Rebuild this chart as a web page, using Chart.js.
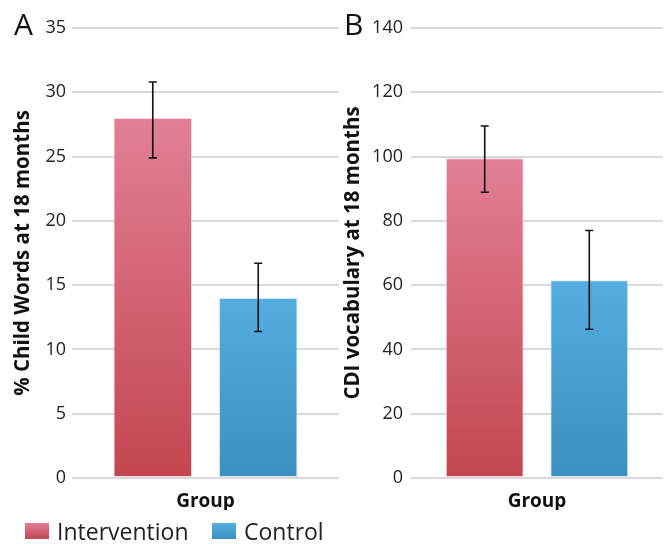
<!DOCTYPE html>
<html lang="en">
<head>
    <meta charset="UTF-8" />
    <title>Child words and CDI vocabulary at 18 months</title>
    <script src="https://cdn.jsdelivr.net/npm/chart.js"></script>
    <style>
        body { margin: 0; background: #fff; font-family: "Open Sans", sans-serif; }
        #wrap { position: relative; width: 669px; height: 544px; overflow: hidden; }
        .panel { position: absolute; top: 0; height: 544px; }
        .letter { position: absolute; top: 4px; font-size: 30px; color: #111; line-height: 40px; }
        .legend { position: absolute; top: 518px; height: 26px; display: flex; align-items: center; font-size: 23px; color: #222; }
        .swatch { display: inline-block; width: 24px; height: 16px; margin-right: 8px; }
    </style>
</head>
<body>
    <div id="wrap">
        <div class="panel" style="left:0;width:339px"><canvas id="chartA"></canvas></div>
        <div class="panel" style="left:330px;width:339px"><canvas id="chartB"></canvas></div>
        <div class="letter" style="left:14px">A</div>
        <div class="letter" style="left:344px">B</div>
        <div class="legend" style="left:25px">
            <span class="swatch" style="background:linear-gradient(#e27f96,#c3464f)"></span>Intervention
        </div>
        <div class="legend" style="left:212px">
            <span class="swatch" style="background:linear-gradient(#55addf,#3a90c0)"></span>Control
        </div>
    </div>
    <script>
    // data
    const groups = ['Group'];
    const seriesNames = ['Intervention', 'Control'];

    // panel A: % child words at 18 months
    const childWords = [28, 14];
    const childWordsLow = [24.9, 11.4];
    const childWordsHigh = [30.8, 16.7];

    // panel B: CDI vocabulary at 18 months
    const cdiVocab = [99.5, 61.5];
    const cdiVocabLow = [88.9, 46.3];
    const cdiVocabHigh = [109.5, 77.0];

    const seriesTop = ['#e27f96', '#55addf'];
    const seriesBottom = ['#c3464f', '#3a90c0'];

    function barFill(i) {
        return function (c) {
            const chart = c.chart;
            if (!chart.chartArea || c.raw == null) return seriesBottom[i];
            const y = chart.scales.y;
            const g = chart.ctx.createLinearGradient(0, y.getPixelForValue(c.raw), 0, y.getPixelForValue(0));
            g.addColorStop(0, seriesTop[i]);
            g.addColorStop(1, seriesBottom[i]);
            return g;
        };
    }

    // error bars from the low/high arrays, placed with the y scale
    const errorBars = {
        id: 'errorBars',
        afterDatasetsDraw(chart, args, opts) {
            const ctx = chart.ctx;
            const y = chart.scales.y;
            ctx.save();
            ctx.strokeStyle = '#111';
            ctx.lineWidth = 1.6;
            chart.data.datasets.forEach((ds, i) => {
                chart.getDatasetMeta(i).data.forEach((bar) => {
                    const x = bar.x;
                    const top = y.getPixelForValue(opts.high[i]);
                    const bot = y.getPixelForValue(opts.low[i]);
                    ctx.beginPath();
                    ctx.moveTo(x, top); ctx.lineTo(x, bot);
                    ctx.moveTo(x - 4, top); ctx.lineTo(x + 4, top);
                    ctx.moveTo(x - 4, bot); ctx.lineTo(x + 4, bot);
                    ctx.stroke();
                });
            });
            ctx.restore();
        }
    };

    function makeChart(id, values, low, high, max, step, title, yWidth, tickPad, padRight, catPct) {
        return new Chart(document.getElementById(id), {
            type: 'bar',
            data: {
                labels: groups,
                datasets: seriesNames.map((name, i) => ({
                    label: name,
                    data: [values[i]],
                    backgroundColor: barFill(i),
                    borderColor: i === 0 ? 'rgba(250,200,215,0.7)' : 'rgba(190,225,245,0.7)',
                    borderWidth: 1,
                    borderSkipped: false,
                    categoryPercentage: catPct,
                    barPercentage: 0.745
                }))
            },
            options: {
                responsive: true,
                maintainAspectRatio: false,
                animation: false,
                layout: { padding: { top: 28, right: padRight, bottom: 34, left: 0 } },
                plugins: {
                    legend: { display: false },
                    tooltip: { enabled: false },
                    errorBars: { low: low, high: high }
                },
                scales: {
                    x: {
                        grid: { display: false },
                        border: { display: false },
                        ticks: { color: '#111', padding: 4, font: { family: 'Open Sans', size: 19, weight: 'bold' } },
                        afterFit(s) { s.height = 32; }
                    },
                    y: {
                        min: 0, max: max,
                        grid: { color: '#d9d9d9', lineWidth: 2, drawTicks: false },
                        border: { display: false },
                        ticks: { stepSize: step, color: '#222', padding: tickPad, font: { family: 'Open Sans', size: 18 } },
                        title: { display: true, text: title, color: '#111', padding: { top: 11, bottom: 0 }, font: { family: 'Open Sans', size: 20.5, weight: 'bold' } },
                        afterFit(s) { s.width = yWidth; }
                    }
                }
            },
            plugins: [errorBars]
        });
    }

    makeChart('chartA', childWords, childWordsLow, childWordsHigh, 35, 5, '% Child Words at 18 months', 72, 6, 0, 0.79);
    makeChart('chartB', cdiVocab, cdiVocabLow, cdiVocabHigh, 140, 20, 'CDI vocabulary at 18 months', 81, 8, 6, 0.83);
    </script>
</body>
</html>
